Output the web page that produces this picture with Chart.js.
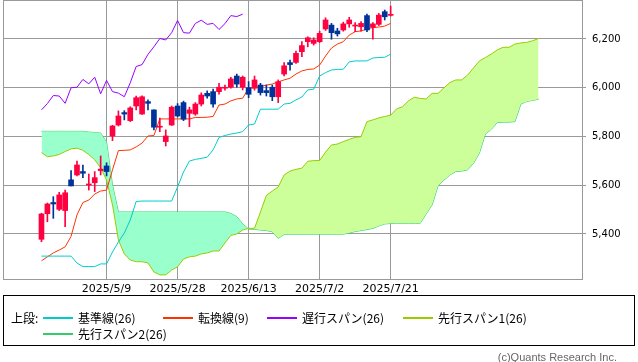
<!DOCTYPE html>
<html lang="ja">
<head>
<meta charset="utf-8">
<title>一目均衡表</title>
<script src="https://cdn.jsdelivr.net/npm/chart.js@4.4.1/dist/chart.umd.min.js"></script>
<style>
  html, body { margin: 0; padding: 0; background: #fff; }
  #wrap { position: relative; width: 638px; height: 362px; overflow: hidden; }
  #chart { position: absolute; left: 0; top: 0; }
  #legend {
    position: absolute; left: 3px; top: 295px; width: 630px; height: 49px;
    border: 1px solid #000; font-family: "Noto Sans CJK JP", sans-serif; font-size: 12px; color: #000;
  }
  #legend .item { position: absolute; height: 16px; line-height: 16px; white-space: nowrap; }
  #legend .swatch { position: absolute; left: 0; top: 7px; width: 30px; height: 2px; }
  #legend .text { position: absolute; left: 35px; top: 0; }
  #copy {
    position: absolute; right: 21px; top: 350px; font-family: "Liberation Sans", sans-serif;
    font-size: 11px; line-height: 14px; color: #666;
  }
</style>
</head>
<body>
<div id="wrap">
  <canvas id="chart" width="638" height="300"></canvas>
  <div id="legend"></div>
  <div id="copy">(c)Quants Research Inc.</div>
</div>
<script>
// candles (60 sessions)
const opens  = [5378, 5483, 5529, 5501, 5496, 5622, 5642, 5656, 5601, 5610,
                5660, 5679, 5802, 5847, 5898, 5865, 5925, 5892, 5943, 5909,
                5838, 5779, 5847, 5925, 5939, 5895, 5892, 5933, 5977, 5984,
                5984, 5998, 6002, 6048, 6002, 6000, 5998, 6011, 5988, 6002,
                5963, 6056, 6103, 6104, 6148, 6189, 6182, 6189, 6241, 6257,
                6233, 6237, 6262, 6253, 6250, 6296, 6248, 6260, 6312, 6297];
const highs  = [5485, 5527, 5553, 5571, 5580, 5660, 5699, 5683, 5646, 5656,
                5720, 5692, 5846, 5905, 5906, 5922, 5966, 5967, 5950, 5909,
                5875, 5827, 5925, 5935, 5945, 5920, 5939, 5979, 5987, 5994,
                6018, 6011, 6043, 6056, 6048, 6025, 6048, 6018, 6011, 6011,
                6032, 6103, 6113, 6150, 6189, 6209, 6205, 6232, 6287, 6264,
                6244, 6269, 6289, 6267, 6271, 6302, 6267, 6305, 6319, 6335];
const lows   = [5368, 5450, 5464, 5496, 5430, 5597, 5638, 5631, 5580, 5574,
                5642, 5638, 5783, 5843, 5868, 5861, 5909, 5890, 5909, 5827,
                5820, 5761, 5845, 5880, 5865, 5840, 5887, 5925, 5957, 5920,
                5974, 5990, 5998, 6002, 5991, 5959, 5990, 5970, 5966, 5947,
                5939, 6048, 6072, 6100, 6127, 6168, 6175, 6185, 6235, 6199,
                6212, 6232, 6248, 6230, 6232, 6230, 6199, 6255, 6278, 6294];
const closes = [5482, 5523, 5523, 5560, 5569, 5597, 5683, 5649, 5605, 5631,
                5666, 5656, 5843, 5884, 5892, 5917, 5959, 5963, 5936, 5838,
                5842, 5802, 5920, 5884, 5871, 5909, 5933, 5970, 5966, 5933,
                6002, 6002, 6036, 6015, 6043, 5973, 6032, 5980, 5980, 5963,
                6025, 6090, 6095, 6141, 6173, 6205, 6196, 6223, 6278, 6226,
                6221, 6262, 6278, 6257, 6264, 6237, 6262, 6298, 6291, 6301];

// 転換線(9), 基準線(26)
const tenkan = [5290, 5306, 5322, 5334, 5347, 5390, 5478, 5529, 5539, 5564,
                5576, 5580, 5663, 5742, 5743, 5745, 5757, 5773, 5802, 5804,
                5872, 5872, 5872, 5872, 5872, 5872, 5878, 5878, 5879, 5882,
                5929, 5933, 5946, 5954, 5957, 5998, 6001, 6005, 6011, 6015,
                6024, 6032, 6039, 6056, 6069, 6075, 6077, 6093, 6130, 6163,
                6179, 6189, 6216, 6230, 6233, 6241, 6247, 6249, 6253, 6264];
const kijun  = [5309, 5309, 5309, 5309, 5309, 5309, 5281, 5266, 5266, 5266,
                5277, 5277, 5326, 5367, 5404, 5457, 5533, 5535, 5535, 5535,
                5535, 5535, 5535, 5593, 5654, 5699, 5706, 5710, 5715, 5745,
                5796, 5804, 5810, 5814, 5820, 5847, 5851, 5912, 5912, 5912,
                5912, 5933, 5936, 5950, 5962, 5991, 5994, 6048, 6062, 6073,
                6075, 6076, 6106, 6110, 6110, 6110, 6122, 6124, 6125, 6138];
// 遅行スパン(26): drawn 25 sessions back
const chikou = [5909, 5935, 5968, 5966, 5936, 6000, 6002, 6034, 6016, 6043,
                5975, 6030, 5984, 5978, 5963, 6020, 6087, 6095, 6137, 6168,
                6202, 6196, 6226, 6276, 6226, 6224, 6264, 6277, 6260, 6264,
                6239, 6263, 6296, 6292, 6302];
// 先行スパン1/2(26): run 25 sessions ahead
const senkouA = [5734, 5717, 5720, 5726, 5738, 5749, 5752, 5743, 5726, 5704,
                 5671, 5621, 5519, 5375, 5318, 5293, 5286, 5286, 5281, 5244,
                 5232, 5232, 5252, 5265, 5297, 5306, 5309, 5318, 5322, 5330,
                 5330, 5363, 5394, 5400, 5416, 5423, 5423, 5490, 5558, 5576,
                 5593, 5642, 5658, 5665, 5670, 5698, 5701, 5701, 5736, 5765,
                 5769, 5779, 5788, 5796, 5799, 5861, 5868, 5876, 5882, 5887,
                 5913, 5922, 5946, 5961, 5956, 5954, 5977, 5977, 5999, 6021,
                 6032, 6032, 6052, 6081, 6110, 6124, 6138, 6155, 6166, 6166,
                 6179, 6184, 6186, 6193, 6202];
const senkouB = [5821, 5821, 5821, 5821, 5821, 5821, 5821, 5821, 5818, 5816,
                 5814, 5777, 5601, 5490, 5490, 5490, 5490, 5490, 5490, 5490,
                 5490, 5490, 5490, 5490, 5490, 5490, 5490, 5490, 5490, 5490,
                 5490, 5490, 5484, 5471, 5441, 5420, 5419, 5416, 5414, 5409,
                 5382, 5398, 5399, 5399, 5399, 5399, 5399, 5399, 5399, 5399,
                 5399, 5399, 5404, 5410, 5414, 5418, 5423, 5433, 5441, 5443,
                 5444, 5444, 5444, 5444, 5444, 5482, 5519, 5597, 5621, 5642,
                 5656, 5658, 5663, 5690, 5732, 5810, 5829, 5857, 5859, 5859,
                 5861, 5933, 5944, 5948, 5953];

// x axis: session slots, dates shown on the grid lines
const firstSlot = -6, lastSlot = 91;
const tickSlots  = [11, 23, 35, 47, 59];
const tickLabels = ["2025/5/9", "2025/5/28", "2025/6/13", "2025/7/2", "2025/7/21"];
const yTicks = [5400, 5600, 5800, 6000, 6200];

const UP = "#ff0040", DOWN = "#003399";

const slots = [];
for (let s = firstSlot; s <= lastSlot; s++) slots.push(s);

// put a series into the slot grid, starting at a given slot
function place(values, start) {
  const out = slots.map(() => null);
  values.forEach((v, k) => { out[start + k - firstSlot] = v; });
  return out;
}

const candleColors = place(opens.map((o, k) => (closes[k] >= o ? UP : DOWN)), 0);

// thin grey frame around the plot
const framePlugin = {
  id: "frame",
  beforeDatasetsDraw(chart) {
    const { ctx, chartArea: a } = chart;
    ctx.save();
    ctx.strokeStyle = "#999";
    ctx.lineWidth = 1;
    ctx.strokeRect(a.left + 0.5, a.top + 0.5, a.right - a.left - 1, a.bottom - a.top - 1);
    ctx.restore();
  }
};

function lineSet(label, data, color, order) {
  return { type: "line", label, data, borderColor: color, borderWidth: 1, pointRadius: 0,
           tension: 0, fill: false, order };
}

const datasets = [
  { type: "bar", label: "wick", data: place(lows.map((l, k) => [l, highs[k]]), 0),
    backgroundColor: candleColors, barThickness: 1, grouped: false, order: 1 },
  { type: "bar", label: "body", data: place(opens.map((o, k) => [o, closes[k]]), 0),
    backgroundColor: candleColors, barThickness: 5, minBarLength: 1, grouped: false, order: 0 },
  lineSet("基準線(26)", place(kijun, 0), "#00cccc", 2),
  lineSet("転換線(9)", place(tenkan, 0), "#ff3300", 2),
  lineSet("遅行スパン(26)", place(chikou, 0), "#9900ff", 2),
  Object.assign(lineSet("先行スパン1(26)", place(senkouA, 0), "#99cc00", 3),
    { fill: { target: 6, above: "#ccff99", below: "#99ffcc" } }),
  lineSet("先行スパン2(26)", place(senkouB, 0), "#33cc66", 3)
];

new Chart(document.getElementById("chart").getContext("2d"), {
  type: "bar",
  data: { labels: slots, datasets },
  options: {
    responsive: false,
    animation: false,
    events: [],
    layout: { padding: { left: 3, top: 0, right: 0, bottom: 0 } },
    plugins: { legend: { display: false }, tooltip: { enabled: false } },
    scales: {
      x: {
        type: "category",
        offset: true,
        grid: {
          offset: false,
          drawTicks: false,
          color: c => (tickSlots.includes(slots[c.index]) ? "#999" : "rgba(0,0,0,0)")
        },
        border: { display: false },
        ticks: {
          autoSkip: false, maxRotation: 0, minRotation: 0, padding: 3, color: "#000",
          font: { family: "DejaVu Sans", size: 11 },
          callback: (v, i) => {
            const k = tickSlots.indexOf(slots[i]);
            return k >= 0 ? tickLabels[k] : "";
          }
        },
        afterFit: s => { s.height = 20; s.paddingLeft = 0; s.paddingRight = 0; }
      },
      y: {
        position: "right",
        min: 5211,
        max: 6360,
        afterBuildTicks: s => { s.ticks = yTicks.map(v => ({ value: v })); },
        grid: { color: "#999", tickLength: 3 },
        border: { display: false },
        ticks: {
          padding: 6, color: "#000",
          font: { family: "DejaVu Sans", size: 10 },
          callback: v => v.toLocaleString("en-US")
        },
        afterFit: s => { s.width = 55; s.paddingTop = 0; s.paddingBottom = 0; }
      }
    }
  },
  plugins: [framePlugin]
});

// legend box below the chart
const legendItems = [
  { label: "基準線(26)", color: "#00cccc", left: 39, top: 14 },
  { label: "転換線(9)", color: "#ff3300", left: 159, top: 14 },
  { label: "遅行スパン(26)", color: "#9900ff", left: 263, top: 14 },
  { label: "先行スパン1(26)", color: "#99cc00", left: 399, top: 14 },
  { label: "先行スパン2(26)", color: "#33cc66", left: 39, top: 30 }
];
const legend = document.getElementById("legend");
const head = document.createElement("span");
head.className = "item";
head.style.left = "7px";
head.style.top = "14px";
head.textContent = "上段:";
legend.appendChild(head);
legendItems.forEach(item => {
  const el = document.createElement("span");
  el.className = "item";
  el.style.left = item.left + "px";
  el.style.top = item.top + "px";
  const sw = document.createElement("span");
  sw.className = "swatch";
  sw.style.background = item.color;
  const tx = document.createElement("span");
  tx.className = "text";
  tx.textContent = item.label;
  el.appendChild(sw);
  el.appendChild(tx);
  legend.appendChild(el);
});
</script>
</body>
</html>
